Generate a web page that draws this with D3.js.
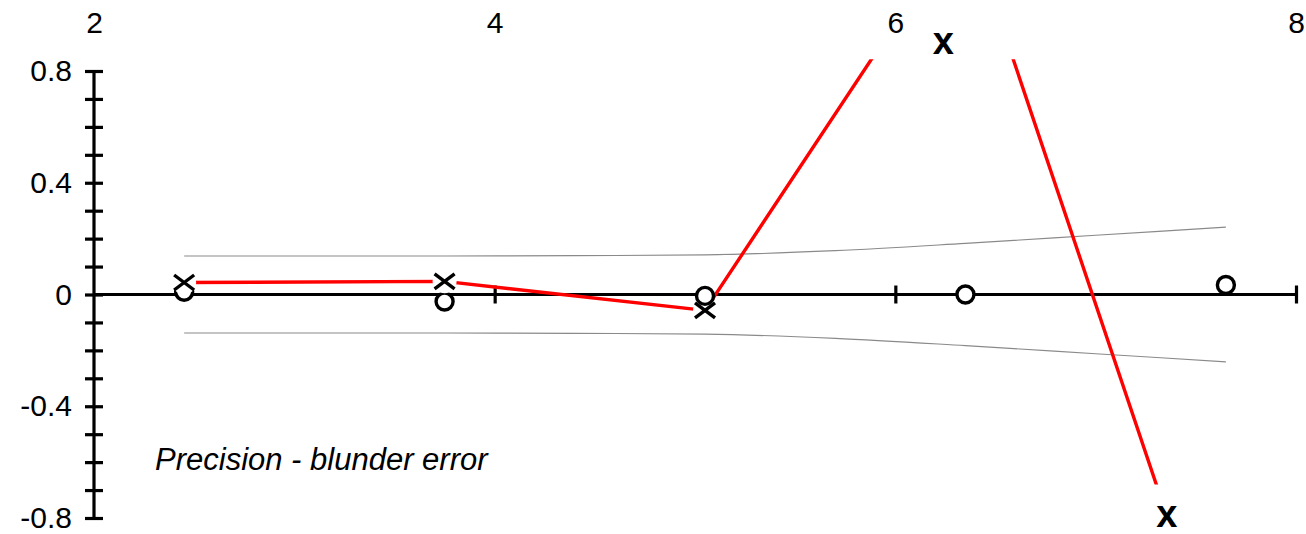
<!DOCTYPE html>
<html>
<head>
<meta charset="utf-8">
<script src="https://cdn.jsdelivr.net/npm/d3@7"></script>
<style>
  html, body { margin: 0; padding: 0; background: #fff; }
  svg { display: block; }
  text { font-family: "Liberation Sans", Arial, sans-serif; fill: #000; }
</style>
</head>
<body>
<svg id="chart" width="1306" height="534"></svg>
<script>
// Observation positions and the two error series
const xPositions   = [2.45, 3.75, 5.05, 6.35, 7.65];
const precisionErr = [0.01, -0.025, -0.005, 0.0, 0.034];   // circles
const blunderErr   = [0.043, 0.047, -0.057, 1.35, -1.42];   // crosses joined by the red line

// Confidence envelope (upper bound; the lower bound mirrors it)
const envelopeX = [2.45, 3.75, 4.4, 5.05, 5.7, 6.35, 7.0, 7.65];
const envelopeY = [0.138, 0.138, 0.139, 0.142, 0.157, 0.183, 0.212, 0.241];

// Axis ticks and labels
const xTickValues = [2, 4, 6, 8];
const xTickLabels = ["2", "4", "6", "8"];
const yMajorTicks = [0.8, 0.4, 0, -0.4, -0.8];
const yTickLabels = ["0.8", "0.4", "0", "-0.4", "-0.8"];
const yMinorTicks = [0.8, 0.7, 0.6, 0.5, 0.4, 0.3, 0.2, 0.1, 0, -0.1, -0.2, -0.3, -0.4, -0.5, -0.6, -0.7, -0.8];

// Band in which the red line is shown, and the markers for values beyond the scale
const lineVisible = [-0.68, 0.842];
const offScaleMarks = [
  { x: 6.24, y: 0.907, label: "x" },
  { x: 7.355, y: -0.785, label: "x" }
];
const captionText = "Precision - blunder error";

const svg = d3.select("#chart");
const W = 1306, H = 534;

const x = d3.scaleLinear().domain([2, 8]).range([94, 1296]);
const y = d3.scaleLinear().domain([-0.8, 0.8]).range([518, 71]);

// ---- axes ----
const axes = svg.append("g");

// vertical axis with crossing ticks
const yTicksG = axes.append("g")
  .attr("transform", `translate(${x(2)},0)`)
  .call(d3.axisLeft(y).tickValues(yMinorTicks).tickSize(0).tickFormat(""));
yTicksG.select(".domain").remove();
yTicksG.selectAll(".tick line")
  .attr("x1", -9).attr("x2", 9)
  .attr("stroke", "#000").attr("stroke-width", 3.2);

// vertical axis labels
const yLabelG = axes.append("g")
  .attr("transform", `translate(${x(2)},0)`)
  .call(d3.axisLeft(y).tickValues(yMajorTicks).tickSize(0).tickPadding(22)
    .tickFormat((d, i) => yTickLabels[i]));
yLabelG.select(".domain").remove();
yLabelG.selectAll("text")
  .attr("font-size", 30)
  .attr("font-family", "Liberation Sans, Arial, sans-serif");

// horizontal axis ticks on the zero line
const xTicksG = axes.append("g")
  .attr("transform", `translate(0,${y(0)})`)
  .call(d3.axisBottom(x).tickValues(xTickValues.slice(1)).tickSize(0).tickFormat(""));
xTicksG.select(".domain").remove();
xTicksG.selectAll(".tick line")
  .attr("y1", -9).attr("y2", 9)
  .attr("stroke", "#000").attr("stroke-width", 3.2);

// horizontal axis labels along the top
const xLabelG = axes.append("g")
  .attr("transform", `translate(0,40)`)
  .call(d3.axisTop(x).tickValues(xTickValues).tickSize(0).tickPadding(7)
    .tickFormat((d, i) => xTickLabels[i]));
xLabelG.select(".domain").remove();
xLabelG.selectAll("text")
  .attr("font-size", 30)
  .attr("font-family", "Liberation Sans, Arial, sans-serif");

// axis lines
axes.append("line")
  .attr("x1", x(2)).attr("x2", x(2))
  .attr("y1", y(0.8)).attr("y2", y(-0.8))
  .attr("stroke", "#000").attr("stroke-width", 3.2);
axes.append("line")
  .attr("x1", x(2)).attr("x2", x(8) + 1.5)
  .attr("y1", y(0)).attr("y2", y(0))
  .attr("stroke", "#000").attr("stroke-width", 3.2);

// ---- confidence envelope ----
const envLine = d3.line().curve(d3.curveMonotoneX);
const upper = envelopeX.map((v, i) => [x(v), y(envelopeY[i])]);
const lower = envelopeX.map((v, i) => [x(v), y(-envelopeY[i])]);
[upper, lower].forEach(pts => {
  svg.append("path")
    .attr("d", envLine(pts))
    .attr("fill", "none")
    .attr("stroke", "#8a8a8a")
    .attr("stroke-width", 1.1);
});

// ---- blunder error line ----
svg.append("clipPath").attr("id", "visibleBand")
  .append("rect")
  .attr("x", 0).attr("width", W)
  .attr("y", y(lineVisible[1]))
  .attr("height", y(lineVisible[0]) - y(lineVisible[1]));

const redLine = d3.line().x(d => x(d[0])).y(d => y(d[1]));
svg.append("path")
  .attr("clip-path", "url(#visibleBand)")
  .attr("d", redLine(xPositions.map((v, i) => [v, blunderErr[i]])))
  .attr("fill", "none")
  .attr("stroke", "#ff0000")
  .attr("stroke-width", 3.4)
  .attr("stroke-linejoin", "round");

// ---- markers ----
const inRange = v => v >= -0.8 && v <= 0.8;
const markers = [];
xPositions.forEach((xv, i) => {
  markers.push({ type: "circle", x: xv, v: precisionErr[i] });
  if (inRange(blunderErr[i])) markers.push({ type: "cross", x: xv, v: blunderErr[i] });
});
// per observation, the marker lying higher is drawn on top
markers.sort((a, b) => a.x - b.x || a.v - b.v);

const mG = svg.append("g");
markers.forEach(m => {
  const cx = x(m.x), cy = y(m.v);
  if (m.type === "circle") {
    mG.append("circle")
      .attr("cx", cx).attr("cy", cy).attr("r", 8.5)
      .attr("fill", "#fff").attr("stroke", "#000").attr("stroke-width", 3.4);
  } else {
    mG.append("circle")
      .attr("cx", cx).attr("cy", cy).attr("r", 12)
      .attr("fill", "#fff");
    mG.append("path")
      .attr("d", `M${cx - 10},${cy - 7.5}L${cx + 10},${cy + 7.5}M${cx - 10},${cy + 7.5}L${cx + 10},${cy - 7.5}`)
      .attr("fill", "none").attr("stroke", "#000").attr("stroke-width", 3.4);
  }
});

// markers for values off the scale
svg.selectAll("text.offscale")
  .data(offScaleMarks)
  .join("text")
  .attr("class", "offscale")
  .attr("x", d => x(d.x))
  .attr("y", d => y(d.y))
  .attr("dy", "0.35em")
  .attr("text-anchor", "middle")
  .attr("font-size", 38)
  .attr("font-weight", "bold")
  .text(d => d.label);

// caption
svg.append("text")
  .attr("x", 155)
  .attr("y", 470)
  .attr("font-size", 31)
  .attr("font-style", "italic")
  .text(captionText);
</script>
</body>
</html>
